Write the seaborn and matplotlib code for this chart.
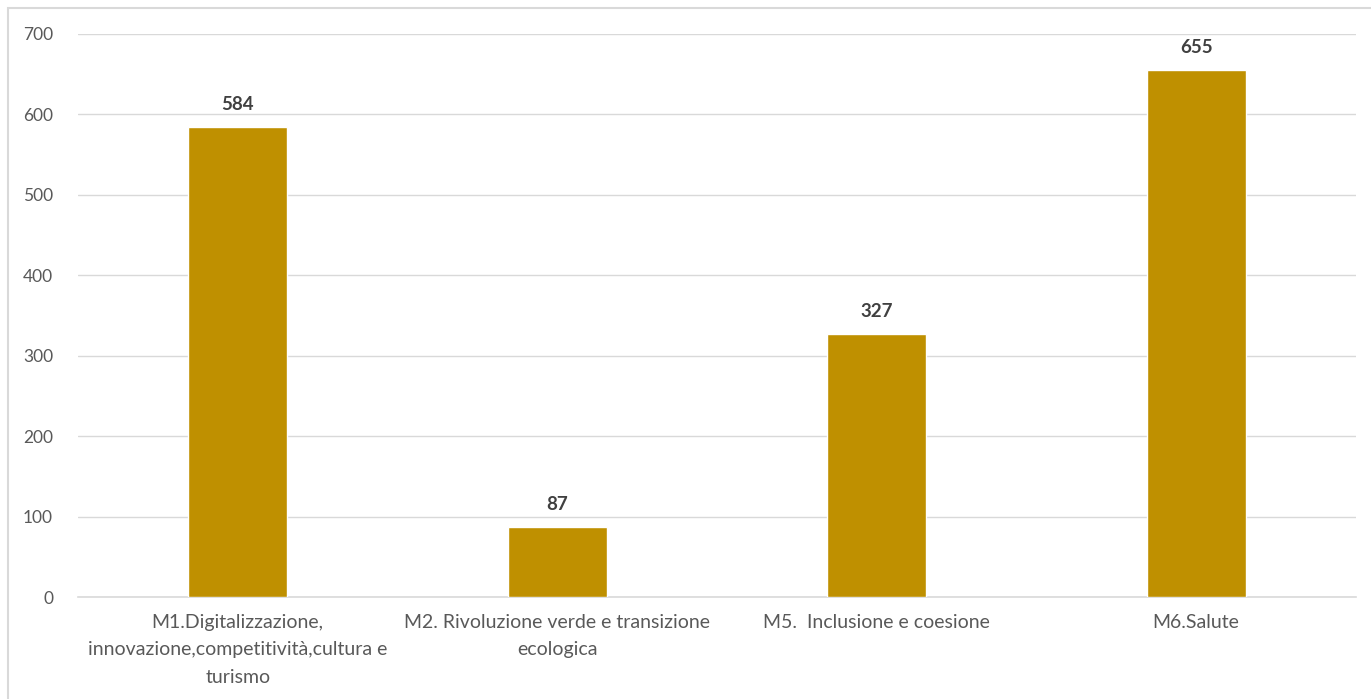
import matplotlib
matplotlib.use("Agg")
import matplotlib.pyplot as plt
import seaborn as sns
import pandas as pd
from matplotlib.patches import Rectangle

categories = [
    "M1.Digitalizzazione,\ninnovazione,competitività,cultura e\nturismo",
    "M2. Rivoluzione verde e transizione\necologica",
    "M5.  Inclusione e coesione",
    "M6.Salute",
]
values = [584, 87, 327, 655]
y_ticks = [0, 100, 200, 300, 400, 500, 600, 700]

bar_color = "#BF9000"
text_gray = "#595959"
grid_gray = "#D9D9D9"

sns.set_theme(style="white")
plt.rcParams["font.family"] = ["Lato", "DejaVu Sans"]

df = pd.DataFrame({"categoria": categories, "valore": values})

fig = plt.figure(figsize=(13.71, 6.99), dpi=100)
ax = fig.add_axes([0.0569, 0.1459, 0.9321, 0.8055])

sns.barplot(data=df, x="categoria", y="valore", color=bar_color,
            width=0.31, saturation=1, ax=ax, zorder=3)

ax.set_ylim(0, 700)
ax.set_xlim(-0.5, len(categories) - 0.5)
ax.set_yticks(y_ticks)
ax.set_yticklabels([str(t) for t in y_ticks], fontsize=12.5, color=text_gray)
ax.tick_params(axis="y", length=0, pad=18)
ax.tick_params(axis="x", length=0, pad=12)
for lbl in ax.get_xticklabels():
    lbl.set_fontsize(14)
    lbl.set_color(text_gray)
    lbl.set_linespacing(1.75)
    lbl.set_horizontalalignment("center")
ax.set_xlabel("")
ax.set_ylabel("")

ax.yaxis.grid(True, color=grid_gray, linewidth=1, zorder=0)
ax.set_axisbelow(True)
for side in ["top", "left", "right"]:
    ax.spines[side].set_visible(False)
ax.spines["bottom"].set_color(grid_gray)
ax.spines["bottom"].set_linewidth(1.2)

for i, v in enumerate(values):
    ax.annotate(str(v), xy=(i, v), xytext=(0, 10), textcoords="offset points",
                ha="center", va="bottom", fontsize=13.5, fontweight="bold",
                color="#404040")

# outer chart frame
fig.patches.append(Rectangle((8 / 1371, -0.05), 1.1, 1 - 8 / 699 + 0.05,
                             transform=fig.transFigure, fill=False,
                             edgecolor=grid_gray, linewidth=1.5))

fig.savefig("out.png", dpi=100)
